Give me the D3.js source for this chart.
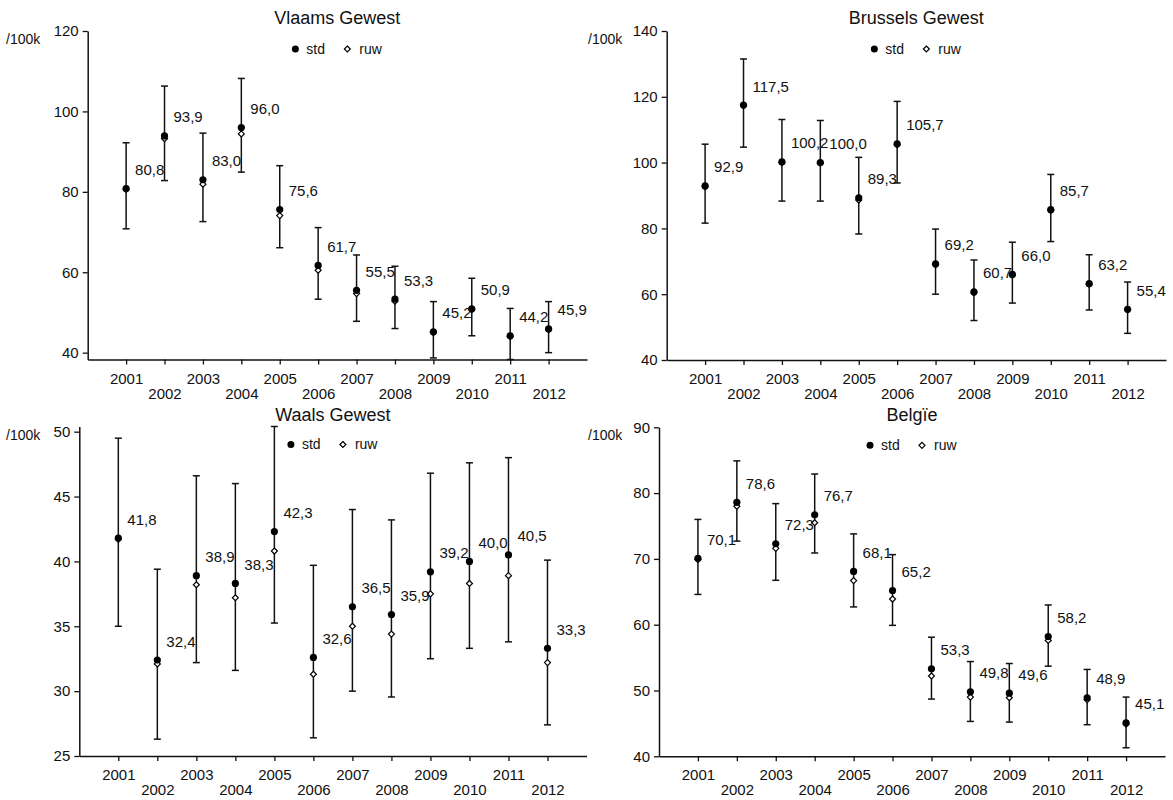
<!DOCTYPE html>
<html>
<head>
<meta charset="utf-8">
<script src="https://cdn.jsdelivr.net/npm/d3@7"></script>
<style>
  body { margin: 0; background: #fff; }
  text { font-family: "Liberation Sans", Arial, sans-serif; fill: #111; }
</style>
</head>
<body>
<div id="container"></div>
<script>
// data (rates per 100k)
var years = [2001, 2002, 2003, 2004, 2005, 2006, 2007, 2008, 2009, 2010, 2011, 2012];

var vlaamsStd = [80.8, 93.9, 83.0, 96.0, 75.6, 61.7, 55.5, 53.3, 45.2, 50.9, 44.2, 45.9];
var vlaamsRuw = [80.6, 93.2, 81.9, 94.4, 74.1, 60.5, 54.7, 52.8, 45.0, 50.7, 44.0, 45.7];
var vlaamsLo  = [70.8, 82.8, 72.6, 84.9, 66.1, 53.3, 47.8, 46.0, 38.7, 44.2, 38.3, 40.0];
var vlaamsHi  = [92.2, 106.3, 94.6, 108.2, 86.5, 71.1, 64.3, 61.5, 52.7, 58.5, 51.0, 52.7];

var brusselStd = [92.9, 117.5, 100.2, 100.0, 89.3, 105.7, 69.2, 60.7, 66.0, 85.7, 63.2, 55.4];
var brusselRuw = [92.7, 117.3, 100.0, 99.8, 88.6, 105.4, 69.0, 60.5, 65.8, 85.5, 63.0, 55.2];
var brusselLo  = [81.6, 104.7, 88.3, 88.3, 78.3, 93.8, 60.0, 52.0, 57.3, 76.0, 55.2, 48.1];
var brusselHi  = [105.6, 131.5, 113.1, 112.8, 101.6, 118.6, 79.8, 70.4, 75.8, 96.4, 72.0, 63.7];

var waalsStd = [41.8, 32.4, 38.9, 38.3, 42.3, 32.6, 36.5, 35.9, 39.2, 40.0, 40.5, 33.3];
var waalsRuw = [41.7, 32.1, 38.2, 37.2, 40.8, 31.3, 35.0, 34.4, 37.5, 38.3, 38.9, 32.2];
var waalsLo  = [35.0, 26.3, 32.2, 31.6, 35.25, 26.4, 30.0, 29.55, 32.5, 33.3, 33.8, 27.4];
var waalsHi  = [49.5, 39.4, 46.6, 46.0, 50.4, 39.7, 44.0, 43.2, 46.8, 47.6, 48.0, 40.1];

var belgieStd = [70.1, 78.6, 72.3, 76.7, 68.1, 65.2, 53.3, 49.8, 49.6, 58.2, 48.9, 45.1];
var belgieRuw = [69.9, 78.0, 71.6, 75.5, 66.7, 63.9, 52.2, 49.0, 48.9, 57.6, 48.6, 44.9];
var belgieLo  = [64.6, 72.7, 66.75, 70.9, 62.7, 59.9, 48.7, 45.3, 45.2, 53.7, 44.8, 41.3];
var belgieHi  = [76.0, 84.9, 78.4, 82.9, 73.8, 70.65, 58.1, 54.4, 54.1, 63.0, 53.2, 49.0];

var vlaamsTicks = [40, 60, 80, 100, 120];
var brusselTicks = [40, 60, 80, 100, 120, 140];
var waalsTicks = [25, 30, 35, 40, 45, 50];
var belgieTicks = [40, 50, 60, 70, 80, 90];

var width = 1173,
    height = 800;

var svg = d3.select("#container").append("svg")
    .attr("width", width)
    .attr("height", height);

var fmt = function(v) { return d3.format(".1f")(v).replace(".", ","); };

var panels = [
  {title: "Vlaams Gewest", std: vlaamsStd, ruw: vlaamsRuw, lo: vlaamsLo, hi: vlaamsHi,
   ticks: vlaamsTicks, ymin: 38.3, ymax: 120, left: 87.7, right: 587, top: 31, bottom: 359.5},
  {title: "Brussels Gewest", std: brusselStd, ruw: brusselRuw, lo: brusselLo, hi: brusselHi,
   ticks: brusselTicks, ymin: 40, ymax: 140, left: 666.7, right: 1166, top: 31, bottom: 360},
  {title: "Waals Gewest", std: waalsStd, ruw: waalsRuw, lo: waalsLo, hi: waalsHi,
   ticks: waalsTicks, ymin: 25, ymax: 50.4, left: 79.3, right: 586.5, top: 426.5, bottom: 756},
  {title: "Belgïe", std: belgieStd, ruw: belgieRuw, lo: belgieLo, hi: belgieHi,
   ticks: belgieTicks, ymin: 40, ymax: 90, left: 659, right: 1165, top: 427.3, bottom: 756.3}
];

var diamond = "M0,-3L3,0L0,3L-3,0Z";

panels.forEach(function(p, pi) {
  var x = d3.scaleLinear().domain([2000, 2013]).range([p.left, p.right]);
  var y = d3.scaleLinear().domain([p.ymin, p.ymax]).range([p.bottom, p.top]);
  var cx = (p.left + p.right) / 2;
  var g = svg.append("g");

  // y axis
  var ya = g.append("g")
      .attr("transform", "translate(" + p.left + ",0)")
      .call(d3.axisLeft(y).tickValues(p.ticks).tickSize(5).tickPadding(4).tickSizeOuter(0));
  ya.select(".domain").attr("stroke", "#111").attr("stroke-width", 1.5);
  ya.selectAll(".tick line").attr("stroke", "#111").attr("stroke-width", 1.3);
  ya.selectAll(".tick text").style("font-size", "15px").style("font-family", "Liberation Sans, Arial, sans-serif").attr("fill", "#111");

  // x axis, odd years on first row, even years on second
  var xa = g.append("g")
      .attr("transform", "translate(0," + p.bottom + ")")
      .call(d3.axisBottom(x).tickValues(years).tickFormat(d3.format("d")).tickSize(5).tickSizeOuter(0));
  xa.select(".domain").attr("stroke", "#111").attr("stroke-width", 1.5);
  xa.selectAll(".tick line").attr("stroke", "#111").attr("stroke-width", 1.3);
  xa.selectAll(".tick text")
      .style("font-size", "15px").style("font-family", "Liberation Sans, Arial, sans-serif").attr("fill", "#111")
      .attr("dy", null)
      .attr("y", function(d) { return d % 2 === 1 ? 24 : 39; });

  // title
  g.append("text")
      .attr("x", cx).attr("y", p.top - (pi < 2 ? 7 : 6))
      .attr("text-anchor", "middle")
      .style("font-size", "18px")
      .text(p.title);

  // unit label
  g.append("text")
      .attr("x", p.left < 600 ? 6 : 588)
      .attr("y", (pi < 2 ? 31 : 427) + 12.5)
      .style("font-size", "14px")
      .text("/100k");

  // legend
  g.append("circle").attr("cx", cx - 42).attr("cy", p.top + 18).attr("r", 3.5).attr("fill", "#000");
  g.append("text").attr("x", cx - 31).attr("y", p.top + 18).attr("dy", "0.35em")
      .style("font-size", "14px").text("std");
  g.append("path").attr("d", diamond).attr("transform", "translate(" + (cx + 10) + "," + (p.top + 18) + ")")
      .attr("fill", "#fff").attr("stroke", "#000").attr("stroke-width", 1.2);
  g.append("text").attr("x", cx + 22).attr("y", p.top + 18).attr("dy", "0.35em")
      .style("font-size", "14px").text("ruw");

  var idx = d3.range(years.length);

  // error bars
  var eb = g.selectAll(".eb").data(idx).enter().append("g").attr("class", "eb");
  eb.append("line")
      .attr("x1", function(i) { return x(years[i]); })
      .attr("x2", function(i) { return x(years[i]); })
      .attr("y1", function(i) { return y(p.lo[i]); })
      .attr("y2", function(i) { return y(p.hi[i]); })
      .attr("stroke", "#111").attr("stroke-width", 1.5);
  ["lo", "hi"].forEach(function(k) {
    eb.append("line")
        .attr("x1", function(i) { return x(years[i]) - 3.5; })
        .attr("x2", function(i) { return x(years[i]) + 3.5; })
        .attr("y1", function(i) { return y(p[k][i]); })
        .attr("y2", function(i) { return y(p[k][i]); })
        .attr("stroke", "#111").attr("stroke-width", 1.5);
  });

  // ruw diamonds (under the std dots)
  g.selectAll(".ruw").data(idx).enter().append("path")
      .attr("class", "ruw")
      .attr("d", diamond)
      .attr("transform", function(i) { return "translate(" + x(years[i]) + "," + y(p.ruw[i]) + ")"; })
      .attr("fill", "#fff").attr("stroke", "#000").attr("stroke-width", 1.2);

  // std dots
  g.selectAll(".std").data(idx).enter().append("circle")
      .attr("class", "std")
      .attr("cx", function(i) { return x(years[i]); })
      .attr("cy", function(i) { return y(p.std[i]); })
      .attr("r", 3.6)
      .attr("fill", "#000");

  // value labels
  g.selectAll(".lab").data(idx).enter().append("text")
      .attr("class", "lab")
      .attr("x", function(i) { return x(years[i]) + 9; })
      .attr("y", function(i) { return y(p.std[i]) - 13.5; })
      .style("font-size", "15px")
      .text(function(i) { return fmt(p.std[i]); });
});
</script>
</body>
</html>
